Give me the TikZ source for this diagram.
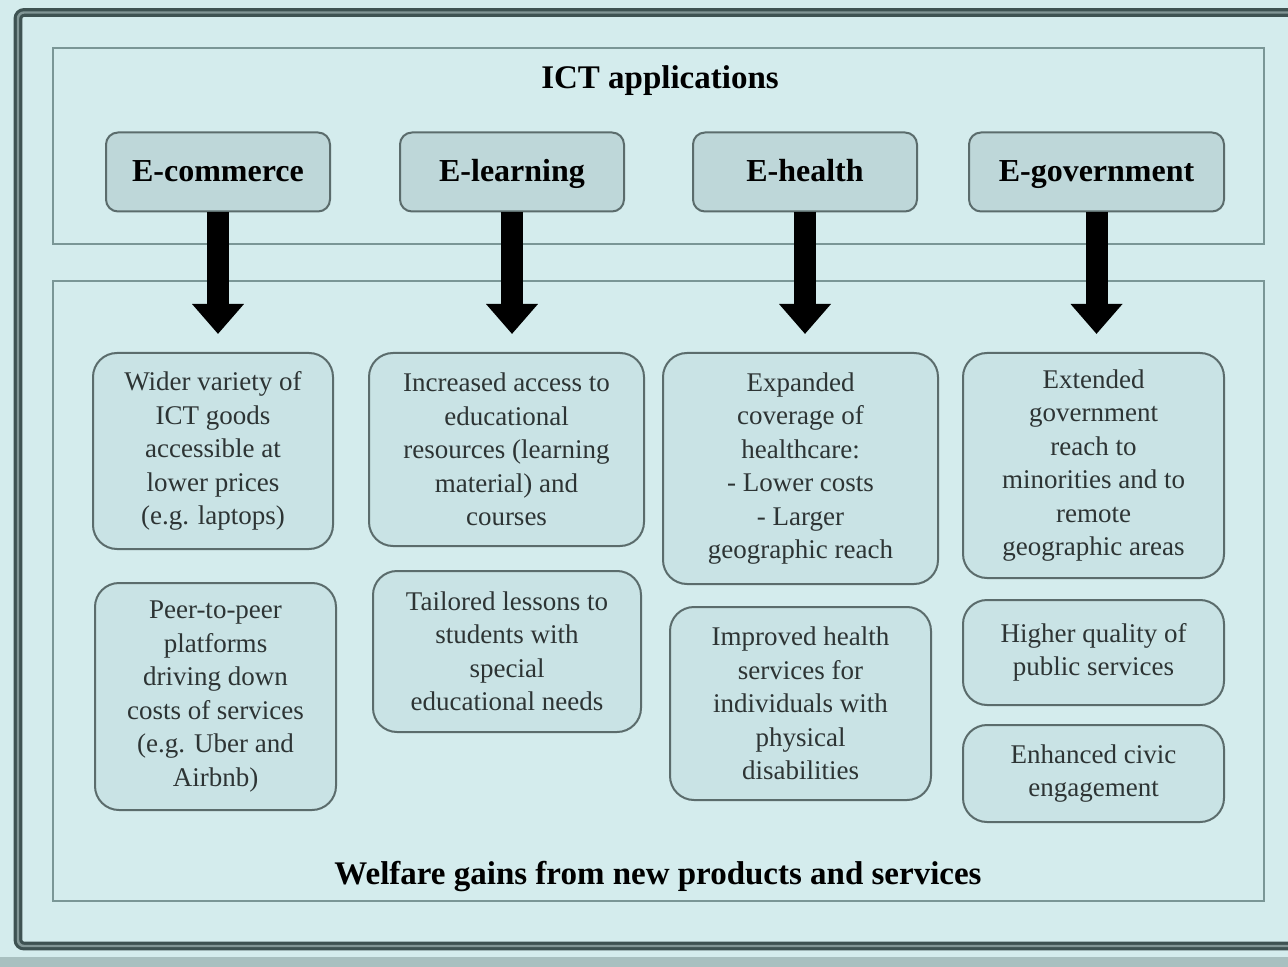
\documentclass[tikz,border=0pt]{standalone}
\usepackage{fontspec}
\setmainfont{Liberation Serif}
\usetikzlibrary{arrows.meta}
\definecolor{bgcyan}{RGB}{212,236,237}
\definecolor{framegray}{RGB}{122,150,150}
\definecolor{framedark}{RGB}{62,82,82}
\definecolor{framemid}{RGB}{130,150,150}
\definecolor{hdrfill}{RGB}{190,215,217}
\definecolor{resfill}{RGB}{201,227,229}
\definecolor{textgray}{RGB}{45,52,52}
\definecolor{stripgray}{RGB}{168,192,192}
\begin{document}
\begin{tikzpicture}[x=0.5pt,y=-0.5pt,
    panel/.style={draw=framegray,line width=1.2pt},
    hdr/.style={draw=framedark!85,fill=hdrfill,rounded corners=6pt,line width=1pt,
      minimum width=112pt,minimum height=39.5pt,text height=10.5pt,text depth=0.5pt,
      font=\fontsize{16}{19}\selectfont\bfseries},
    res/.style={draw=framedark!85,fill=resfill,rounded corners=12pt,line width=1pt,
      align=center,text=textgray,font=\fontsize{13.5}{16.75}\selectfont,inner sep=2pt},
    bigarrow/.style={line width=11pt,-{Triangle[width=25pt,length=15pt]},shorten >=9pt},
    heading/.style={font=\fontsize{16.5}{19}\selectfont\bfseries}]
    \useasboundingbox (0,0) rectangle (1288,967);
    \clip (0,0) rectangle (1288,967);
    \fill[bgcyan] (0,0) rectangle (1288,967);
    \fill[stripgray] (0,957) rectangle (1288,967);
    % outer frame
    \draw[line width=1.6pt,framedark,double=framemid,double distance=1.2pt,rounded corners=3pt]
        (18,12.5) rectangle (1320,946);
    % panels
    \draw[panel] (53,48) rectangle (1264,244);
    \draw[panel] (53,281) rectangle (1264,901);
    \node[heading] (ict) at (660,81) {ICT applications};
    \node[heading] (welfare) at (658,877) {Welfare gains from new products and services};

    % applications
    \node[hdr] (ecom) at (218,172) {E-commerce};
    \node[hdr] (elearn) at (512,172) {E-learning};
    \node[hdr] (ehealth) at (805,172) {E-health};
    \node[hdr,minimum width=127.5pt] (egov) at (1096.5,172) {E-government};

    % gains
    \node[res,minimum width=120pt,minimum height=98pt] (ecomA) at (213,451)
        {Wider variety of\\ICT goods\\accessible at\\lower prices\\(e.g. laptops)};
    \node[res,minimum width=120.5pt,minimum height=113.5pt] (ecomB) at (215.5,696.5)
        {Peer-to-peer\\platforms\\driving down\\costs of services\\(e.g. Uber and\\Airbnb)};
    \node[res,minimum width=137.5pt,minimum height=96.5pt] (elearnA) at (506.5,449.5)
        {Increased access to\\educational\\resources (learning\\material) and\\courses};
    \node[res,minimum width=134pt,minimum height=80.5pt] (elearnB) at (507,651.5)
        {Tailored lessons to\\students with\\special\\educational needs};
    \node[res,minimum width=137.5pt,minimum height=115.5pt] (ehealthA) at (800.5,468.5)
        {Expanded\\coverage of\\healthcare:\\- Lower costs\\- Larger\\geographic reach};
    \node[res,minimum width=130.5pt,minimum height=96.5pt] (ehealthB) at (800.5,703.5)
        {Improved health\\services for\\individuals with\\physical\\disabilities};
    \node[res,minimum width=130.5pt,minimum height=112.5pt] (egovA) at (1093.5,465.5)
        {Extended\\government\\reach to\\minorities and to\\remote\\geographic areas};
    \node[res,minimum width=130.5pt,minimum height=52.5pt] (egovB) at (1093.5,652.5)
        {Higher quality of\\public services};
    \node[res,minimum width=130.5pt,minimum height=48.5pt] (egovC) at (1093.5,773.5)
        {Enhanced civic\\engagement};

    % arrows
    \draw[bigarrow] (ecom.south) -- (ecom.south |- ecomA.north);
    \draw[bigarrow] (elearn.south) -- (elearn.south |- elearnA.north);
    \draw[bigarrow] (ehealth.south) -- (ehealth.south |- ehealthA.north);
    \draw[bigarrow] (egov.south) -- (egov.south |- egovA.north);
\end{tikzpicture}
\end{document}
